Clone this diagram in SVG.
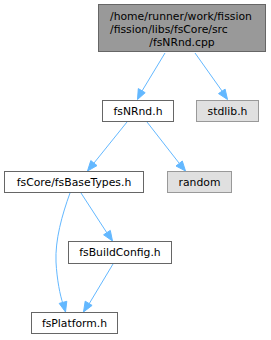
<svg xmlns="http://www.w3.org/2000/svg" width="271" height="340" viewBox="0 0 271 340">
<defs>
<style>
text{font-family:"DejaVu Sans",sans-serif;font-size:10.8px;fill:#000}
.n rect{fill:#fff;stroke:#666;stroke-width:1}
.g rect{fill:#e0e0e0;stroke:#999;stroke-width:1}
.top rect{fill:#999;stroke:#666;stroke-width:1}
.e path{fill:none;stroke:#63b8ff;stroke-width:1}
.e polygon{fill:#63b8ff;stroke:#63b8ff;stroke-width:1}
</style>
</defs>
<g id="edges" class="e">
<path d="M165,53 L142,91"/><polygon points="137.5,99.5 138.3,88.6 145.2,92.7"/>
<path d="M195,53 L222,91"/><polygon points="227.5,99.5 218.5,93.6 225.1,89.1"/>
<path d="M127,122 L94,163"/><polygon points="87.5,171 90.8,160.6 97,165.6"/>
<path d="M147,122 L179,163"/><polygon points="185.5,171 176,166 182.3,161"/>
<path d="M81,193 L107,233"/><polygon points="112.5,241 103.6,234.8 110.3,230.4"/>
<path d="M70,193 C62,215 55,240 56,262 C57,280 60,295 63,304"/><polygon points="65.5,312 59.2,303.4 66.8,301.3"/>
<path d="M113,264 L89,304"/><polygon points="83.5,312 85.2,301.2 92.1,305.4"/>
</g>
<g id="node1" class="top">
<rect x="98.5" y="4.5" width="167" height="47"/>
<text x="110" y="19.5">/home/runner/work/fission</text>
<text x="110" y="32.5">/fission/libs/fsCore/src</text>
<text x="182" y="45.5" text-anchor="middle">/fsNRnd.cpp</text>
</g>
<g id="node2" class="n">
<rect x="102.5" y="100.5" width="71" height="21"/>
<text x="138" y="115" text-anchor="middle">fsNRnd.h</text>
</g>
<g id="node3" class="g">
<rect x="196.5" y="100.5" width="62" height="21"/>
<text x="227.5" y="115" text-anchor="middle">stdlib.h</text>
</g>
<g id="node4" class="n">
<rect x="4.5" y="171.5" width="139" height="21"/>
<text x="74" y="186" text-anchor="middle">fsCore/fsBaseTypes.h</text>
</g>
<g id="node5" class="g">
<rect x="167.5" y="171.5" width="64" height="21"/>
<text x="199.5" y="186" text-anchor="middle">random</text>
</g>
<g id="node6" class="n">
<rect x="68.5" y="241.5" width="103" height="22"/>
<text x="120" y="256" text-anchor="middle">fsBuildConfig.h</text>
</g>
<g id="node7" class="n">
<rect x="31.5" y="312.5" width="86" height="21"/>
<text x="74.5" y="327" text-anchor="middle">fsPlatform.h</text>
</g>
</svg>
